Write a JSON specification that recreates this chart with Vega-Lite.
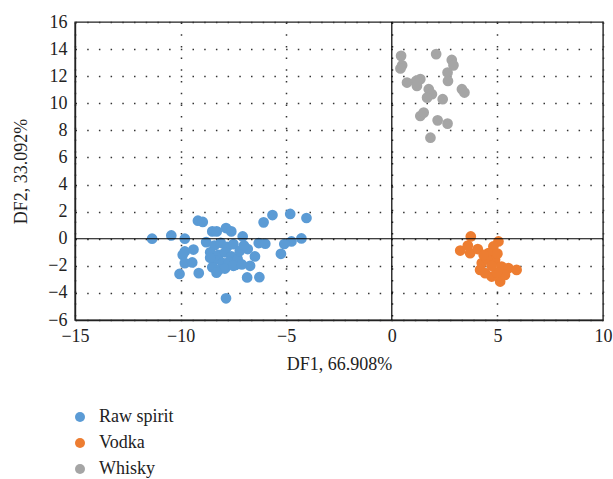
{
  "$schema": "https://vega.github.io/schema/vega-lite/v6.json",
  "width": 528,
  "height": 298,
  "autosize": {"type": "none"},
  "padding": {"left": 75, "top": 22, "right": 10, "bottom": 159},
  "background": "white",
  "config": {
    "view": {"stroke": "#222", "strokeWidth": 1.4},
    "font": "Liberation Serif",
    "axis": {
      "labelFont": "Liberation Serif",
      "titleFont": "Liberation Serif",
      "labelFontSize": 18,
      "titleFontSize": 18,
      "labelColor": "#222",
      "titleColor": "#222",
      "titleFontWeight": "normal",
      "domainColor": "#222",
      "domainWidth": 1.4,
      "ticks": false,
      "labelOverlap": false,
      "labelBound": false,
      "labelFlush": false,
      "gridColor": "#333",
      "gridWidth": 1.5,
      "gridDash": [1.5, 10.2]
    },
    "legend": {
      "labelFont": "Liberation Serif",
      "labelFontSize": 18,
      "labelColor": "#222"
    }
  },
  "datasets": {
    "pts": [
      {"g": "Raw spirit", "x": -11.35, "y": 0.0},
      {"g": "Raw spirit", "x": -10.44, "y": 0.24},
      {"g": "Raw spirit", "x": -9.8, "y": 0.0},
      {"g": "Raw spirit", "x": -9.18, "y": 1.33},
      {"g": "Raw spirit", "x": -8.95, "y": 1.24},
      {"g": "Raw spirit", "x": -8.5, "y": 0.54},
      {"g": "Raw spirit", "x": -8.29, "y": 0.54},
      {"g": "Raw spirit", "x": -7.85, "y": 0.79},
      {"g": "Raw spirit", "x": -7.6, "y": 0.54},
      {"g": "Raw spirit", "x": -8.79, "y": -0.25},
      {"g": "Raw spirit", "x": -9.8, "y": -0.94},
      {"g": "Raw spirit", "x": -9.9, "y": -1.19},
      {"g": "Raw spirit", "x": -9.39, "y": -0.8},
      {"g": "Raw spirit", "x": -9.8, "y": -1.8},
      {"g": "Raw spirit", "x": -9.45, "y": -1.75},
      {"g": "Raw spirit", "x": -10.05, "y": -2.6},
      {"g": "Raw spirit", "x": -9.14, "y": -2.54},
      {"g": "Raw spirit", "x": -7.85, "y": -4.4},
      {"g": "Raw spirit", "x": -7.06, "y": 0.17},
      {"g": "Raw spirit", "x": -6.82, "y": -0.76},
      {"g": "Raw spirit", "x": -6.48, "y": -1.31},
      {"g": "Raw spirit", "x": -6.71, "y": -2.0},
      {"g": "Raw spirit", "x": -6.85, "y": -2.86},
      {"g": "Raw spirit", "x": -6.27, "y": -2.84},
      {"g": "Raw spirit", "x": -6.3, "y": -0.32},
      {"g": "Raw spirit", "x": -5.99, "y": -0.37},
      {"g": "Raw spirit", "x": -6.07, "y": 1.21},
      {"g": "Raw spirit", "x": -5.65, "y": 1.75},
      {"g": "Raw spirit", "x": -4.81, "y": 1.83},
      {"g": "Raw spirit", "x": -4.04, "y": 1.53},
      {"g": "Raw spirit", "x": -4.28, "y": 0.02},
      {"g": "Raw spirit", "x": -4.75, "y": -0.2},
      {"g": "Raw spirit", "x": -5.09, "y": -0.39},
      {"g": "Raw spirit", "x": -5.25, "y": -1.11},
      {"g": "Raw spirit", "x": -7.4, "y": -1.93},
      {"g": "Raw spirit", "x": -8.4, "y": -0.5},
      {"g": "Raw spirit", "x": -8.1, "y": -0.3},
      {"g": "Raw spirit", "x": -7.8, "y": -0.6},
      {"g": "Raw spirit", "x": -7.5, "y": -0.4},
      {"g": "Raw spirit", "x": -8.6, "y": -1.0},
      {"g": "Raw spirit", "x": -8.2, "y": -1.2},
      {"g": "Raw spirit", "x": -7.9, "y": -1.0},
      {"g": "Raw spirit", "x": -7.6, "y": -1.3},
      {"g": "Raw spirit", "x": -8.4, "y": -1.6},
      {"g": "Raw spirit", "x": -8.0, "y": -1.8},
      {"g": "Raw spirit", "x": -7.7, "y": -1.7},
      {"g": "Raw spirit", "x": -7.3, "y": -1.5},
      {"g": "Raw spirit", "x": -8.5, "y": -2.1},
      {"g": "Raw spirit", "x": -8.2, "y": -2.3},
      {"g": "Raw spirit", "x": -7.9, "y": -2.2},
      {"g": "Raw spirit", "x": -8.6, "y": -1.4},
      {"g": "Raw spirit", "x": -7.2, "y": -0.9},
      {"g": "Raw spirit", "x": -7.0, "y": -0.5},
      {"g": "Raw spirit", "x": -8.3, "y": -2.5},
      {"g": "Raw spirit", "x": -7.5, "y": -2.0},
      {"g": "Raw spirit", "x": -7.1, "y": -1.9},
      {"g": "Vodka", "x": 3.74, "y": 0.17},
      {"g": "Vodka", "x": 3.24, "y": -0.87},
      {"g": "Vodka", "x": 3.71, "y": -1.06},
      {"g": "Vodka", "x": 4.07, "y": -0.76},
      {"g": "Vodka", "x": 3.6, "y": -0.5},
      {"g": "Vodka", "x": 5.05, "y": -0.2},
      {"g": "Vodka", "x": 4.81, "y": -0.57},
      {"g": "Vodka", "x": 4.58, "y": -1.06},
      {"g": "Vodka", "x": 4.26, "y": -1.8},
      {"g": "Vodka", "x": 4.18, "y": -2.3},
      {"g": "Vodka", "x": 4.89, "y": -1.56},
      {"g": "Vodka", "x": 5.2, "y": -2.05},
      {"g": "Vodka", "x": 5.52, "y": -2.17},
      {"g": "Vodka", "x": 5.91, "y": -2.3},
      {"g": "Vodka", "x": 5.13, "y": -3.16},
      {"g": "Vodka", "x": 4.73, "y": -2.79},
      {"g": "Vodka", "x": 4.42, "y": -2.54},
      {"g": "Vodka", "x": 5.36, "y": -2.67},
      {"g": "Vodka", "x": 4.98, "y": -2.5},
      {"g": "Vodka", "x": 4.5, "y": -1.5},
      {"g": "Vodka", "x": 4.73, "y": -2.0},
      {"g": "Vodka", "x": 4.35, "y": -1.2},
      {"g": "Vodka", "x": 5.0, "y": -1.1},
      {"g": "Whisky", "x": 0.44, "y": 13.5},
      {"g": "Whisky", "x": 0.49, "y": 12.8},
      {"g": "Whisky", "x": 0.41, "y": 12.57},
      {"g": "Whisky", "x": 2.1, "y": 13.63},
      {"g": "Whisky", "x": 2.84, "y": 13.2},
      {"g": "Whisky", "x": 2.92, "y": 12.8},
      {"g": "Whisky", "x": 2.64, "y": 12.27},
      {"g": "Whisky", "x": 2.66, "y": 11.65},
      {"g": "Whisky", "x": 0.72, "y": 11.53},
      {"g": "Whisky", "x": 1.15, "y": 11.65},
      {"g": "Whisky", "x": 1.35, "y": 11.78},
      {"g": "Whisky", "x": 1.19, "y": 11.28},
      {"g": "Whisky", "x": 1.75, "y": 11.04},
      {"g": "Whisky", "x": 1.9, "y": 10.67},
      {"g": "Whisky", "x": 1.67, "y": 10.42},
      {"g": "Whisky", "x": 2.41, "y": 10.3},
      {"g": "Whisky", "x": 3.32, "y": 11.04},
      {"g": "Whisky", "x": 3.44, "y": 10.79},
      {"g": "Whisky", "x": 1.35, "y": 9.06},
      {"g": "Whisky", "x": 1.51, "y": 9.31},
      {"g": "Whisky", "x": 2.17, "y": 8.74},
      {"g": "Whisky", "x": 2.64, "y": 8.5},
      {"g": "Whisky", "x": 1.83, "y": 7.46}
    ],
    "zx": [{"x": 0}],
    "zy": [{"y": 0}]
  },
  "layer": [
    {
      "data": {"name": "pts"},
      "mark": {"type": "circle", "size": 115, "opacity": 1},
      "encoding": {
        "x": {
          "field": "x",
          "type": "quantitative",
          "scale": {"domain": [-15, 10], "nice": false, "zero": false},
          "axis": {
            "values": [-15, -10, -5, 0, 5, 10],
            "grid": true,
            "labelOverlap": false,
            "labelPadding": 7,
            "title": "DF1, 66.908%",
            "titlePadding": 10
          }
        },
        "y": {
          "field": "y",
          "type": "quantitative",
          "scale": {"domain": [-6, 16], "nice": false, "zero": false},
          "axis": {
            "values": [-6, -4, -2, 0, 2, 4, 6, 8, 10, 12, 14, 16],
            "grid": true,
            "labelOverlap": false,
            "labelPadding": 8,
            "title": "DF2, 33.092%",
            "titlePadding": 17
          }
        },
        "color": {
          "field": "g",
          "type": "nominal",
          "scale": {
            "domain": ["Raw spirit", "Vodka", "Whisky"],
            "range": ["#5b9bd5", "#ed7d31", "#a5a5a5"]
          },
          "legend": {
            "title": null,
            "orient": "none",
            "legendX": -4,
            "legendY": 386,
            "symbolType": "circle",
            "symbolSize": 100,
            "symbolStrokeWidth": 0,
            "rowPadding": 8,
            "labelOffset": 10
          }
        }
      }
    },
    {
      "data": {"name": "zy"},
      "mark": {"type": "rule", "color": "black", "strokeWidth": 1.2},
      "encoding": {
        "y": {
          "field": "y",
          "type": "quantitative",
          "scale": {"domain": [-6, 16], "nice": false, "zero": false},
          "axis": {
            "values": [-6, -4, -2, 0, 2, 4, 6, 8, 10, 12, 14, 16],
            "grid": true,
            "labelOverlap": false,
            "labelPadding": 8,
            "title": "DF2, 33.092%",
            "titlePadding": 17
          }
        }
      }
    },
    {
      "data": {"name": "zx"},
      "mark": {"type": "rule", "color": "black", "strokeWidth": 1.2},
      "encoding": {
        "x": {
          "field": "x",
          "type": "quantitative",
          "scale": {"domain": [-15, 10], "nice": false, "zero": false},
          "axis": {
            "values": [-15, -10, -5, 0, 5, 10],
            "grid": true,
            "labelOverlap": false,
            "labelPadding": 7,
            "title": "DF1, 66.908%",
            "titlePadding": 10
          }
        }
      }
    }
  ]
}
